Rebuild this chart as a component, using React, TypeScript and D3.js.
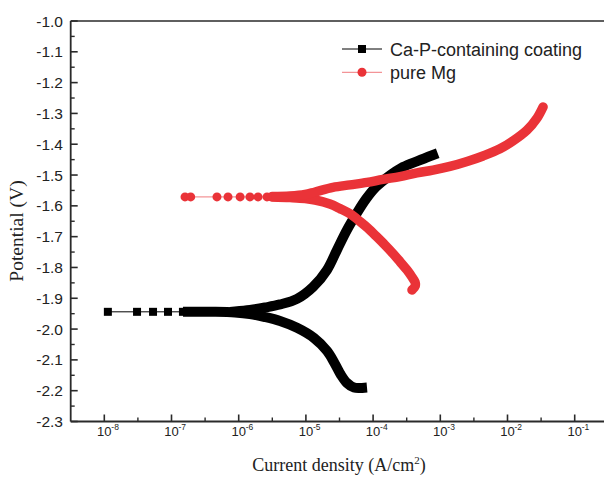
import React from 'react';
import * as d3 from 'd3';

// ---------- data (current density A/cm², potential V) ----------
const yTickValues = [-1.0, -1.1, -1.2, -1.3, -1.4, -1.5, -1.6, -1.7, -1.8, -1.9, -2.0, -2.1, -2.2, -2.3];
const xTickExponents = [-8, -7, -6, -5, -4, -3, -2, -1];
const seriesNames = ['Ca-P-containing coating', 'pure Mg'];
const seriesColors = ['#000000', '#ea3338'];

// Ca-P-containing coating
const coatingNearEcorr: [number, number][] = [
  [1.13e-8, -1.944], [3.07e-8, -1.944], [5.31e-8, -1.944], [8.87e-8, -1.944], [1.48e-7, -1.944],
];
const coatingCathodic: [number, number][] = [
  [1.76e-7, -1.944], [4.44e-7, -1.944], [8.81e-7, -1.946], [1.47e-6, -1.951], [2.46e-6, -1.961],
  [4.12e-6, -1.974], [7.37e-6, -1.996], [1.32e-5, -2.029], [2.06e-5, -2.071], [2.71e-5, -2.113],
  [3.33e-5, -2.149], [4.09e-5, -2.175], [5.20e-5, -2.190], [6.84e-5, -2.191],
];
const coatingAnodic: [number, number][] = [
  [8.81e-7, -1.943], [1.47e-6, -1.938], [2.46e-6, -1.930], [4.12e-6, -1.920], [7.37e-6, -1.902],
  [1.28e-5, -1.863], [2.06e-5, -1.808], [2.90e-5, -1.743], [4.09e-5, -1.678], [5.76e-5, -1.623],
  [7.84e-5, -1.578], [1.10e-4, -1.539], [1.67e-4, -1.506], [2.79e-4, -1.474], [4.66e-4, -1.454],
  [7.79e-4, -1.435],
];

// pure Mg
const mgNearEcorr: [number, number][] = [
  [1.59e-7, -1.571], [1.93e-7, -1.571], [4.75e-7, -1.571], [6.93e-7, -1.571], [1.05e-6, -1.571],
  [1.47e-6, -1.571], [1.94e-6, -1.571], [2.64e-6, -1.571],
];
const mgAnodic: [number, number][] = [
  [3.13e-6, -1.570], [5.80e-6, -1.568], [9.70e-6, -1.563], [1.37e-5, -1.555], [2.53e-5, -1.540],
  [4.53e-5, -1.532], [8.11e-5, -1.524], [1.40e-4, -1.514], [2.51e-4, -1.505], [4.50e-4, -1.493],
  [7.79e-4, -1.484], [1.39e-3, -1.472], [2.50e-3, -1.456], [4.32e-3, -1.438], [7.73e-3, -1.415],
  [1.21e-2, -1.389], [1.95e-2, -1.354], [2.75e-2, -1.315], [3.38e-2, -1.279],
];
const mgCathodic: [number, number][] = [
  [3.13e-6, -1.571], [5.80e-6, -1.573], [9.70e-6, -1.576], [1.37e-5, -1.581], [2.28e-5, -1.594],
  [3.22e-5, -1.609], [4.53e-5, -1.626], [6.38e-5, -1.651], [8.40e-5, -1.673], [1.14e-4, -1.701],
  [1.50e-4, -1.727], [1.98e-4, -1.755], [2.51e-4, -1.781], [3.19e-4, -1.808], [3.79e-4, -1.831],
  [4.20e-4, -1.847], [4.23e-4, -1.860], [3.79e-4, -1.873],
];

// ---------- layout ----------
const W = 604;
const H = 477;
const plotLeft = 70.7;
const plotTop = 21;
const plotBottom = 421.5;
const decadePx = 67.2;
const sans = '"Liberation Sans", Arial, sans-serif';
const serif = '"Liberation Serif", "Times New Roman", serif';
const axisColor = '#2a2a2a';

export default function App() {
  const x = d3.scaleLog().domain([10 ** -8.5, 10 ** -0.5]).range([plotLeft, plotLeft + 8 * decadePx]);
  const y = d3.scaleLinear().domain([-1.0, -2.3]).range([plotTop, plotBottom]);

  const thick = d3.line<[number, number]>()
    .x((d) => x(d[0]))
    .y((d) => y(d[1]))
    .curve(d3.curveCatmullRom.alpha(0.5));
  const thin = d3.line<[number, number]>().x((d) => x(d[0])).y((d) => y(d[1]));

  const yMinor = d3.range(0, 13).map((i) => -1.05 - 0.1 * i);
  const xMinor = xTickExponents.map((e) => 10 ** (e + 0.5));

  return (
    <svg width={W} height={H} style={{ position: 'absolute', left: 0, top: 0, background: '#fff' }}>
      <rect x={0} y={0} width={W} height={H} fill="#fff" />

      {/* Ca-P coating */}
      <g>
        <path d={thin([...coatingNearEcorr, coatingCathodic[0]]) || ''} fill="none" stroke="#000" strokeWidth={1} />
        <path d={thick(coatingCathodic) || ''} fill="none" stroke="#000" strokeWidth={10} strokeLinecap="square" strokeLinejoin="round" />
        <path d={thick(coatingAnodic) || ''} fill="none" stroke="#000" strokeWidth={10} strokeLinecap="square" strokeLinejoin="round" />
        {coatingNearEcorr.map((d, i) => (
          <rect key={i} x={x(d[0]) - 4} y={y(d[1]) - 4} width={8} height={8} fill="#000" />
        ))}
      </g>

      {/* pure Mg */}
      <g>
        <path d={thin([...mgNearEcorr, mgAnodic[0]]) || ''} fill="none" stroke="#f07a7e" strokeWidth={1} />
        <path d={thick(mgCathodic) || ''} fill="none" stroke={seriesColors[1]} strokeWidth={9.5} strokeLinecap="round" strokeLinejoin="round" />
        <path d={thick(mgAnodic) || ''} fill="none" stroke={seriesColors[1]} strokeWidth={9.5} strokeLinecap="round" strokeLinejoin="round" />
        {mgNearEcorr.map((d, i) => (
          <circle key={i} cx={x(d[0])} cy={y(d[1])} r={4.5} fill={seriesColors[1]} />
        ))}
      </g>

      {/* axes */}
      <line x1={plotLeft} x2={W} y1={plotTop} y2={plotTop} stroke={axisColor} strokeWidth={1.6} />
      <line x1={plotLeft} x2={plotLeft} y1={plotTop} y2={plotBottom} stroke={axisColor} strokeWidth={1.8} />
      <line x1={plotLeft} x2={W} y1={plotBottom} y2={plotBottom} stroke={axisColor} strokeWidth={1.8} />

      {yTickValues.map((v) => (
        <g key={v}>
          <line x1={plotLeft} x2={plotLeft + 7} y1={y(v)} y2={y(v)} stroke={axisColor} strokeWidth={1.6} />
          <text x={63} y={y(v)} dy="0.36em" textAnchor="end" fontFamily={sans} fontSize={15.5} fill="#222">
            {v.toFixed(1)}
          </text>
        </g>
      ))}
      {yMinor.map((v, i) => (
        <line key={i} x1={plotLeft} x2={plotLeft + 4} y1={y(v)} y2={y(v)} stroke={axisColor} strokeWidth={1.4} />
      ))}

      {xTickExponents.map((e) => {
        const px = x(10 ** e);
        return (
          <g key={e}>
            <line x1={px} x2={px} y1={plotBottom} y2={plotBottom - 7} stroke={axisColor} strokeWidth={1.6} />
            <text x={px} y={436} textAnchor="middle" fontFamily={sans} fontSize={13} fill="#222">10</text>
            <text x={px + 7} y={430} textAnchor="start" fontFamily={sans} fontSize={8.5} fill="#222">{e}</text>
          </g>
        );
      })}
      {xMinor.map((v, i) => {
        const px = x(v);
        if (px > W) return null;
        return <line key={i} x1={px} x2={px} y1={plotBottom} y2={plotBottom - 4} stroke={axisColor} strokeWidth={1.4} />;
      })}

      {/* axis titles */}
      <text x={339} y={471} textAnchor="middle" fontFamily={serif} fontSize={18} fill="#222">
        Current density (A/cm<tspan dy={-7} fontSize={11}>2</tspan><tspan dy={7}>)</tspan>
      </text>
      <text transform={`translate(23,231) rotate(-90)`} textAnchor="middle" fontFamily={serif} fontSize={19.5} fill="#222">
        Potential (V)
      </text>

      {/* legend */}
      <g>
        <line x1={342} x2={382} y1={49} y2={49} stroke="#000" strokeWidth={1} />
        <rect x={358} y={45} width={8} height={8} fill="#000" />
        <text x={390} y={55.5} fontFamily={sans} fontSize={18} fill="#222">{seriesNames[0]}</text>
        <line x1={342} x2={382} y1={72.3} y2={72.3} stroke="#f07a7e" strokeWidth={1} />
        <circle cx={362} cy={72.3} r={4.5} fill={seriesColors[1]} />
        <text x={390} y={78.8} fontFamily={sans} fontSize={18} fill="#222">{seriesNames[1]}</text>
      </g>
    </svg>
  );
}
